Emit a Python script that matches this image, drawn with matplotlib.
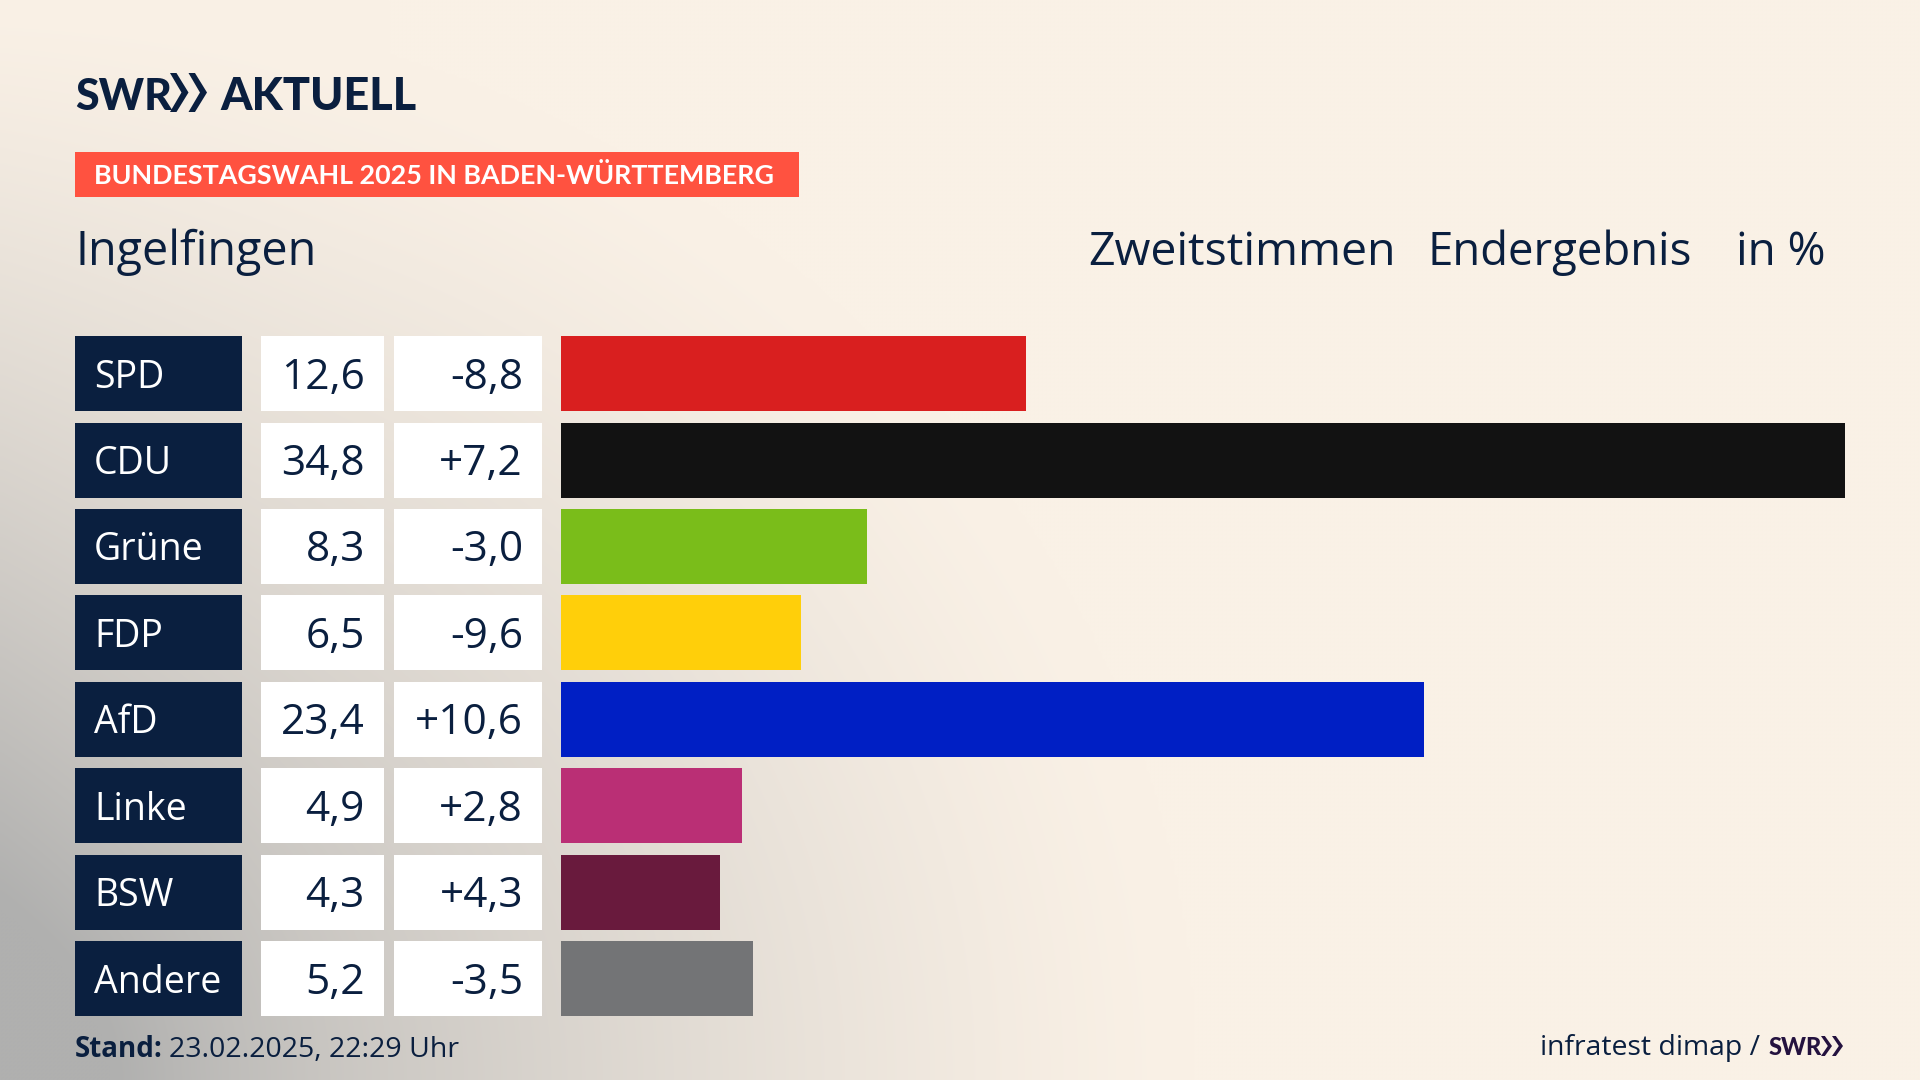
import matplotlib.pyplot as plt
import numpy as np

parties = ['SPD', 'CDU', 'Grüne', 'FDP', 'AfD', 'Linke', 'BSW', 'Andere']
result = [12.6, 34.8, 8.3, 6.5, 23.4, 4.9, 4.3, 5.2]
change = ['-8,8', '+7,2', '-3,0', '-9,6', '+10,6', '+2,8', '+4,3', '-3,5']
party_colors = ['#D91F1F', '#121212', '#7ABD1A', '#FFCF0A', '#001FC4', '#BA2F75', '#691A3D', '#737476']

NAVY = '#0A1F3F'
CREAM = np.array([250, 241, 230]) / 255
GREY = np.array([176, 176, 175]) / 255
W, H = 1920, 1080
FONT = 'Open Sans'
BOLD = 'Lato'


def background():
    """
    Build the soft grey corner on the cream backdrop.
    :return: rgb array
    """
    x, y = np.meshgrid(np.linspace(0, 1, 480), np.linspace(0, 1, 270))
    # distance from the bottom left corner, wider than tall
    d = np.sqrt((x / 0.62) ** 2 + ((1 - y) / 1.0) ** 2)
    t = np.clip(1 - d, 0, 1) ** 1.3
    t2 = np.clip(1 - x / 0.2, 0, 1) ** 2 * 0.25
    t = np.clip(t + t2 * y, 0, 1)
    return CREAM + (GREY - CREAM) * t[..., None]


def chevrons(ax, x, top, bottom, width, color):
    """
    Draw the two logo chevrons.
    :return: None
    """
    mid = (top + bottom) / 2
    step = width * 0.5
    for k in range(2):
        x0 = x + k * step
        ax.fill([x0, x0 + step * 0.35, x0 + step, x0 + step * 0.35, x0, x0 + step * 0.62],
                [top, top, mid, bottom, bottom, mid], color=color, lw=0)


def plot_data():
    """
    Plot the result rows on the full size layout.
    :return: None
    """
    figure = plt.figure(figsize=(W / 100, H / 100), dpi=100)
    ax = figure.add_axes([0, 0, 1, 1])
    ax.imshow(background(), extent=(0, W, H, 0), aspect='auto', interpolation='bicubic')
    ax.set_xlim(0, W)
    ax.set_ylim(H, 0)
    ax.axis('off')

    # Logo and headline
    ax.text(75, 110, 'SWR', family=BOLD, weight='black', fontsize=31, color=NAVY, va='baseline')
    chevrons(ax, 170, 73, 112, 37, NAVY)
    ax.text(220, 110, 'AKTUELL', family=BOLD, weight='black', fontsize=32.4, color=NAVY, va='baseline')
    ax.barh(174.5, 724, height=45, left=75, color='#FF5240')
    ax.text(94, 184, 'BUNDESTAGSWAHL 2025 IN BADEN-WÜRTTEMBERG', family=BOLD, weight='bold',
            fontsize=19.4, color='white', va='baseline')
    ax.text(75, 265, 'Ingelfingen', family=FONT, fontsize=33.6, color=NAVY, va='baseline')
    ax.text(1088, 265, 'Zweitstimmen', family=FONT, fontsize=33.4, color=NAVY, va='baseline')
    ax.text(1428, 265, 'Endergebnis', family=FONT, fontsize=32.8, color=NAVY, va='baseline')
    ax.text(1825, 265, 'in %', family=FONT, fontsize=33, color=NAVY, va='baseline', ha='right')

    # Table cells
    rows = 373.6 + 86.43 * np.arange(len(parties))
    ax.barh(rows, 167, height=75, left=75, color=NAVY)
    ax.barh(rows, 123, height=75, left=261, color='white')
    ax.barh(rows, 148, height=75, left=394, color='white')
    for y, party, value, diff in zip(rows, parties, result, change):
        ax.text(94, y + 14, party, family=FONT, fontsize=27, color='white', va='baseline')
        ax.text(365, y + 15, f'{value:.1f}'.replace('.', ','), family=FONT, fontsize=30.5,
                color=NAVY, va='baseline', ha='right')
        ax.text(523, y + 15, diff, family=FONT, fontsize=30.5, color=NAVY, va='baseline', ha='right')

    # Footer
    ax.text(75, 1057, 'Stand:', family=FONT, weight='bold', fontsize=20, color=NAVY, va='baseline')
    ax.text(169, 1057, '23.02.2025, 22:29 Uhr', family=FONT, fontsize=20.5, color=NAVY, va='baseline')
    ax.text(1760, 1055, 'infratest dimap /', family=FONT, fontsize=20.4, color=NAVY, va='baseline', ha='right')
    ax.text(1769, 1055, 'SWR', family=BOLD, weight='black', fontsize=17, color='#24123F', va='baseline')
    chevrons(ax, 1821, 1036, 1056, 22, '#24123F')

    # Bars on their own percent axis
    top = rows[0] - 86.43 / 2
    bars = figure.add_axes([561 / W, 1 - (top + 691.44) / H, 1284 / W, 691.44 / H])
    bars.barh(np.arange(len(parties)), result, height=75 / 86.43, color=party_colors)
    bars.set_xlim(0, 34.8)
    bars.set_ylim(len(parties) - 0.5, -0.5)
    bars.axis('off')

    figure.savefig('out.png', dpi=100)


if __name__ == '__main__':
    plot_data()
